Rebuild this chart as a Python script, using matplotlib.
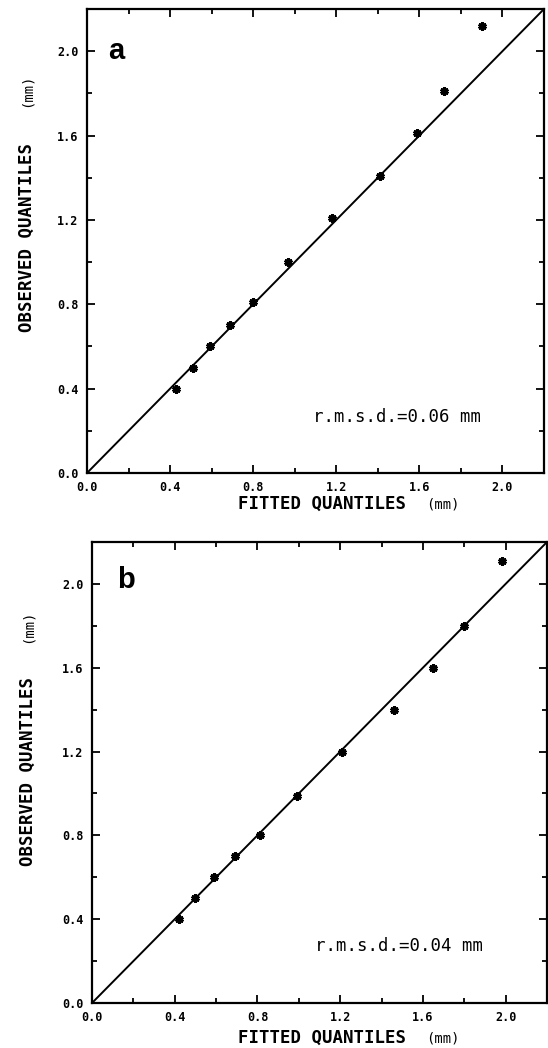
import numpy as np
import matplotlib.pyplot as plt
from matplotlib.ticker import MultipleLocator, FormatStrFormatter

# Q-Q data (fitted, observed) in mm
fitted_a = [0.43, 0.51, 0.59, 0.69, 0.80, 0.97, 1.18, 1.41, 1.59, 1.72, 1.90]
observed_a = [0.40, 0.50, 0.60, 0.70, 0.81, 1.00, 1.21, 1.41, 1.61, 1.81, 2.12]
fitted_b = [0.42, 0.50, 0.59, 0.69, 0.81, 0.99, 1.21, 1.46, 1.65, 1.80, 1.98]
observed_b = [0.40, 0.50, 0.60, 0.70, 0.80, 0.99, 1.20, 1.40, 1.60, 1.80, 2.11]
rmsd = {"a": "0.06", "b": "0.04"}

W, H = 548, 1048
fig = plt.figure(figsize=(W / 100, H / 100), dpi=100)

def frac(px_l, px_t, px_r, px_b):
    return [px_l / W, 1 - px_b / H, (px_r - px_l) / W, (px_b - px_t) / H]

# tag, x, y, axes rect, ylabel centre, (mm) centre, ylabel x, xlabel y, tag pos, rmsd pos
panels = [
    ("a", fitted_a, observed_a, frac(87, 9, 544, 473), 238, 90, 27, 504,
     (0.10, 2.00), (1.09, 0.265)),
    ("b", fitted_b, observed_b, frac(92, 542, 547, 1003), 772, 626, 28, 1038,
     (0.12, 2.02), (1.08, 0.27)),
]

mono = "DejaVu Sans Mono"

for tag, fx, ob, rect, ylab_c, ymm_c, ylab_x, xlab_y, tag_xy, rm_xy in panels:
    ax = fig.add_axes(rect)
    ax.plot([0, 2.2], [0, 2.2], color="black", lw=1.4)
    ax.plot(fx, ob, linestyle="none", marker=(6, 2, 0), color="black",
            markersize=6, markeredgewidth=2.2)
    ax.set_xlim(0, 2.2)
    ax.set_ylim(0, 2.2)

    for s in ax.spines.values():
        s.set_linewidth(1.6)

    for axis in (ax.xaxis, ax.yaxis):
        axis.set_major_locator(MultipleLocator(0.4))
        axis.set_minor_locator(MultipleLocator(0.2))
        axis.set_major_formatter(FormatStrFormatter("%.1f"))
    ax.tick_params(which="both", direction="in", top=True, bottom=True,
                   left=True, right=True, width=1.3)
    ax.tick_params(which="major", length=5.5)
    ax.tick_params(which="minor", length=3.5)
    ax.tick_params(axis="x", pad=6)
    ax.tick_params(axis="y", pad=6)
    for lab in ax.get_xticklabels() + ax.get_yticklabels():
        lab.set_family(mono)
        lab.set_fontweight("bold")
        lab.set_fontsize(8.5)

    ax.text(tag_xy[0], tag_xy[1], tag, fontsize=21, fontweight="bold",
            family="Liberation Sans", va="center", ha="left")
    ax.text(rm_xy[0], rm_xy[1], f"r.m.s.d.={rmsd[tag]} mm", family=mono,
            fontsize=12.5, va="center", ha="left")

    # axis labels
    fig.text(322 / W, 1 - xlab_y / H, "FITTED QUANTILES", family=mono, fontweight="bold",
             fontsize=12.5, ha="center", va="center")
    fig.text(443 / W, 1 - xlab_y / H, "(mm)", family=mono, fontsize=10,
             ha="center", va="center")
    fig.text(ylab_x / W, 1 - ylab_c / H, "OBSERVED QUANTILES", family=mono, fontweight="bold",
             fontsize=12.5, ha="center", va="center", rotation=90)
    fig.text(ylab_x / W, 1 - ymm_c / H, "(mm)", family=mono, fontsize=10,
             ha="center", va="center", rotation=90)

fig.savefig("out.png", dpi=100, facecolor="white")
